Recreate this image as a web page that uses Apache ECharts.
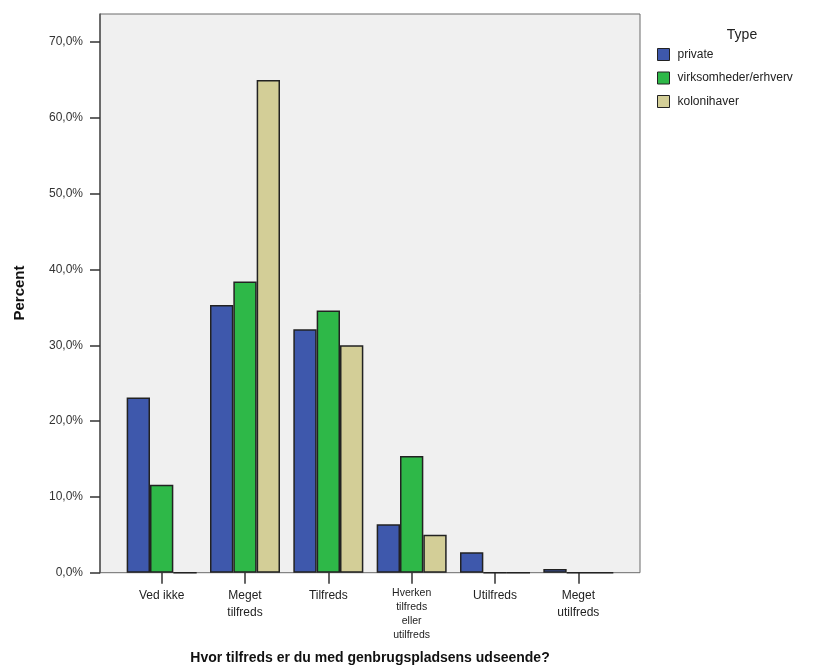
<!DOCTYPE html>
<html>
<head>
<meta charset="utf-8">
<script src="https://cdn.jsdelivr.net/npm/echarts@6/dist/echarts.min.js"></script>
<style>html,body{margin:0;padding:0;background:#fff}#c{width:826px;height:669px}</style>
</head>
<body>
<div id="c"></div>
<script>
const categories = ['Ved ikke', 'Meget\ntilfreds', 'Tilfreds', 'Hverken\ntilfreds\neller\nutilfreds', 'Utilfreds', 'Meget\nutilfreds'];
const seriesNames = ['private', 'virksomheder/erhverv', 'kolonihaver'];
const privateVals = [23.1, 35.3, 32.1, 6.4, 2.7, 0.5];
const virksomhederVals = [11.6, 38.4, 34.6, 15.4, 0, 0];
const kolonihaverVals = [0, 65.0, 30.0, 5.0, 0, 0];
const yTicks = [0, 10, 20, 30, 40, 50, 60, 70];
const colors = ['#3e58ac', '#2eb848', '#d3ce97'];

const FONT = '"Liberation Sans", Arial, sans-serif';
const yMax = 73.7;
const chart = echarts.init(document.getElementById('c'), null, {renderer: 'canvas'});
const fmt = v => v.toFixed(1).replace('.', ',') + '%';
const allVals = [privateVals, virksomhederVals, kolonihaverVals];

chart.setOption({
  animation: false,
  textStyle: {fontFamily: FONT},
  grid: [
    {left: 100, top: 14, width: 540, height: 558.7, show: true, backgroundColor: '#f0f0f0', borderColor: '#6b6b6b', borderWidth: 1, containLabel: false},
    {left: 120, top: 14, width: 500, height: 558.7, show: false, containLabel: false}
  ],
  xAxis: [
    {gridIndex: 0, type: 'value', show: false, min: 0, max: 1},
    {gridIndex: 1, type: 'category', data: categories,
     axisLine: {show: false},
     axisTick: {show: true, alignWithLabel: true, length: 11, lineStyle: {color: '#333', width: 1.5}},
     axisLabel: {margin: 14, color: '#222', fontFamily: FONT, interval: 0,
       formatter: function (v) {
         if (v.indexOf('Hverken') === 0) {
           return v.split('\n').map(s => '{s|' + s + '}').join('\n');
         }
         return v.split('\n').map(s => '{n|' + s + '}').join('\n');
       },
       rich: {
         n: {fontSize: 12, lineHeight: 17, fontFamily: FONT, color: '#222'},
         s: {fontSize: 10.5, lineHeight: 13.8, fontFamily: FONT, color: '#222'}
       }
     }
    }
  ],
  yAxis: [
    {gridIndex: 0, type: 'value', min: 0, max: yMax, interval: 10,
     axisLine: {show: true, lineStyle: {color: '#555', width: 1.5}},
     axisTick: {show: true, length: 10, lineStyle: {color: '#333', width: 1.5}, customValues: yTicks},
     axisLabel: {fontSize: 12, color: '#333', margin: 17, fontFamily: FONT, formatter: fmt, customValues: yTicks},
     splitLine: {show: false}
    },
    {gridIndex: 1, type: 'value', min: 0, max: yMax, show: false, splitLine: {show: false}}
  ],
  legend: {
    orient: 'vertical', left: 657, top: 48, padding: 0,
    itemWidth: 12, itemHeight: 12, itemGap: 10.5, icon: 'rect',
    data: seriesNames,
    itemStyle: {borderColor: '#222', borderWidth: 1},
    textStyle: {fontSize: 12, color: '#222', fontFamily: FONT, padding: [0, 0, 0, 3]}
  },
  graphic: [
    {type: 'text', x: 742, y: 35, style: {text: 'Type', fontSize: 14, fontFamily: FONT, fill: '#222', x: 0, y: 0, align: 'center', verticalAlign: 'middle'}},
    {type: 'text', x: 370, y: 658, style: {text: 'Hvor tilfreds er du med genbrugspladsens udseende?', fontSize: 14, fontWeight: 'bold', fontFamily: FONT, fill: '#111', x: 0, y: 0, align: 'center', verticalAlign: 'middle'}},
    {type: 'text', x: 20, y: 293, rotation: Math.PI / 2, style: {text: 'Percent', fontSize: 15, fontWeight: 'bold', fontFamily: FONT, fill: '#111', x: 0, y: 0, align: 'center', verticalAlign: 'middle'}}
  ],
  series: seriesNames.map((n, i) => ({
    name: n, type: 'bar', xAxisIndex: 1, yAxisIndex: 1,
    data: allVals[i],
    barGap: '0%', barCategoryGap: '16%',
    itemStyle: {color: colors[i], borderColor: '#222', borderWidth: 1.5}
  }))
});
</script>
</body>
</html>
